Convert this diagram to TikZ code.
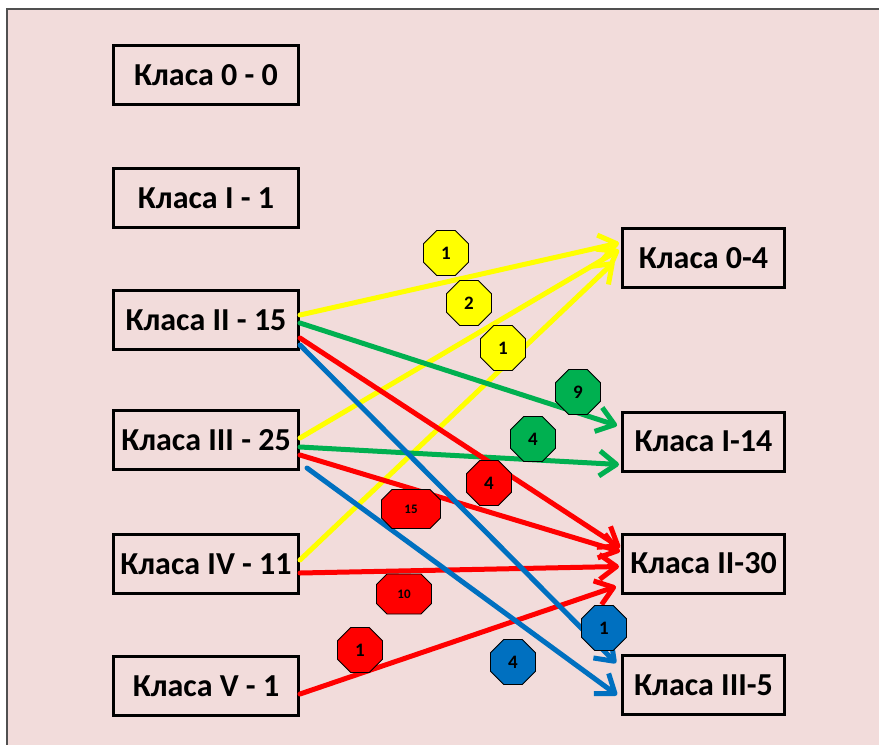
\documentclass[tikz,border=0pt]{standalone}
\usepackage{fontspec}
\setmainfont{Carlito}
\usetikzlibrary{arrows.meta}
\definecolor{bgpink}{HTML}{F2DCDB}
\definecolor{framegray}{HTML}{505050}
\definecolor{ayellow}{HTML}{FFFF00}
\definecolor{agreen}{HTML}{00B050}
\definecolor{ared}{HTML}{FF0000}
\definecolor{ablue}{HTML}{0070C0}
\newcommand\octo[8]{%
  \filldraw[octline, fill=#7] (#2-#4+#6,#3-#5) -- (#2+#4-#6,#3-#5) -- (#2+#4,#3-#5+#6) -- (#2+#4,#3+#5-#6) -- (#2+#4-#6,#3+#5) -- (#2-#4+#6,#3+#5) -- (#2-#4,#3+#5-#6) -- (#2-#4,#3-#5+#6) -- cycle;
  \node[octtext] (#1) at (#2,#3) {#8};}
\begin{document}
\begin{tikzpicture}[x=1pt,y=-1pt,
  box/.style={draw=black, line width=3pt, minimum height=59pt, inner sep=0pt, font=\fontsize{32}{36}\selectfont\bfseries},
  lbox/.style={box, minimum width=185pt},
  rbox/.style={box, minimum width=162pt},
  conn/.style={line width=5pt, line cap=round, -{Straight Barb[length=17pt,width=25pt,line join=round]}},
  octline/.style={draw=black, line width=0.9pt, line join=round},
  octtext/.style={inner sep=0pt, font=\fontsize{19}{22}\selectfont\bfseries},
]
\useasboundingbox (0,0) rectangle (879,745);
\fill[white] (0,0) rectangle (879,745);
\filldraw[fill=bgpink, draw=framegray, line width=2pt] (7,9) rectangle (890,760);

% left boxes
\node[lbox] (L0) at (206,75) {Класа 0 - 0};
\node[lbox] (L1) at (206,198) {Класа I - 1};
\node[lbox] (L2) at (206,320) {Класа II - 15};
\node[lbox] (L3) at (206,440) {Класа III - 25};
\node[lbox] (L4) at (206,564) {Класа IV - 11};
\node[lbox] (L5) at (206,686) {Класа V - 1};
% right boxes
\node[rbox] (R0) at (703.5,258) {Класа 0-4};
\node[rbox] (R1) at (703.5,441.5) {Класа I-14};
\node[rbox] (R2) at (703.5,563.5) {Класа II-30};
\node[rbox] (R3) at (703.5,685) {Класа III-5};

% yellow
\draw[conn, ayellow] ([yshift=5]L2.east) -- ([xshift=-2,yshift=15]R0.west);
\draw[conn, ayellow] ([yshift=2]L3.east) -- ([xshift=-2,yshift=8]R0.west);
\draw[conn, ayellow] ([yshift=4]L4.east) -- ([xshift=-7,yshift=-4]R0.west);
% green
\draw[conn, agreen] ([yshift=-3]L2.east) -- ([xshift=-4,yshift=16]R1.west);
\draw[conn, agreen] ([yshift=-7]L3.east) -- ([xshift=-2,yshift=-23]R1.west);
% red
\draw[conn, ared] ([yshift=-18]L2.east) -- ([xshift=-1,yshift=16]R2.west);
\draw[conn, ared] ([yshift=-15]L3.east) -- ([xshift=-1,yshift=12]R2.west);
\draw[conn, ared] ([yshift=-9]L4.east) -- ([xshift=-2,yshift=-3]R2.west);
\draw[conn, ared] ([yshift=-8]L5.east) -- ([xshift=-5,yshift=-23]R2.west);
% blue
\draw[conn, ablue] ([yshift=-25]L2.east) -- ([xshift=-5,yshift=22]R3.west);
\draw[conn, ablue] ([xshift=7,yshift=-28]L3.east) -- ([xshift=-4,yshift=-10]R3.west);

% octagon labels
\octo{y1}{446}{253}{22.5}{22.5}{13.2}{ayellow}{1}
\octo{y2}{469}{303}{22.5}{22.5}{13.2}{ayellow}{2}
\octo{y3}{503}{348}{22.5}{22.5}{13.2}{ayellow}{1}
\octo{g1}{578}{392}{22.5}{22.5}{13.2}{agreen}{9}
\octo{g2}{533}{439}{22.5}{22.5}{13.2}{agreen}{4}
\octo{r1}{489}{483}{22.5}{22.5}{13.2}{ared}{4}
\octo{r2}{411}{509}{29.5}{19.5}{10.5}{ared}{\fontsize{13}{15}\selectfont 15}
\octo{r3}{404}{594}{27.5}{20}{10.5}{ared}{\fontsize{13}{15}\selectfont 10}
\octo{r4}{360}{650}{22.5}{22.5}{13.2}{ared}{1}
\octo{b1}{604}{628}{22.5}{22.5}{13.2}{ablue}{1}
\octo{b2}{513}{662}{22.5}{22.5}{13.2}{ablue}{4}
\end{tikzpicture}
\end{document}
